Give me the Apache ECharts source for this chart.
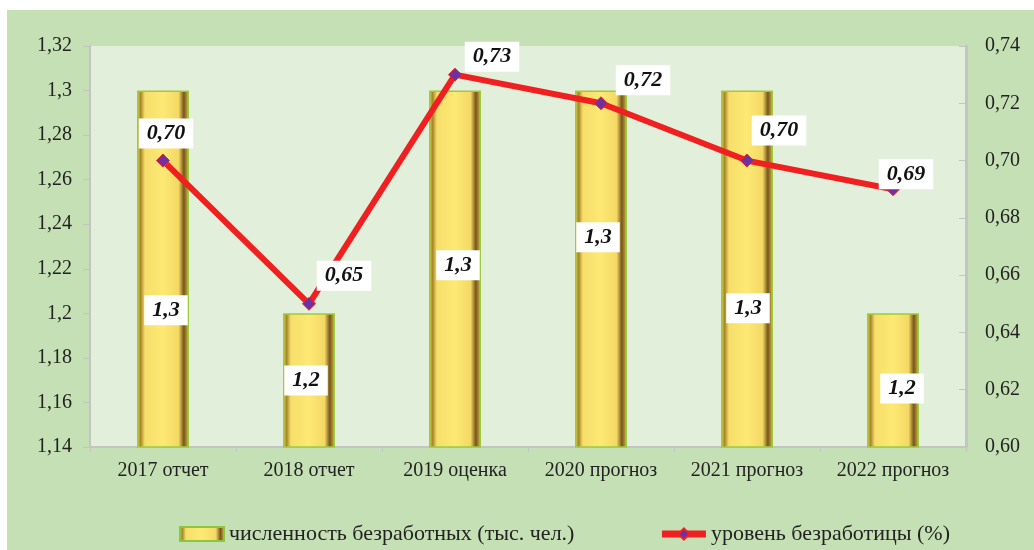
<!DOCTYPE html>
<html><head><meta charset="utf-8">
<script src="https://cdn.jsdelivr.net/npm/echarts@6/dist/echarts.min.js"></script>
<style>html,body{margin:0;padding:0;background:#fff}#c{width:1034px;height:550px}</style>
</head><body><div id="c"></div>
<script>
const categories = ['2017 отчет','2018 отчет','2019 оценка','2020 прогноз','2021 прогноз','2022 прогноз'];
const unemployedCount = [1.3, 1.2, 1.3, 1.3, 1.3, 1.2];
const unemploymentRate = [0.70, 0.65, 0.73, 0.72, 0.70, 0.69];
const leftTicks = {min: 1.14, max: 1.32, interval: 0.02};
const rightTicks = {min: 0.60, max: 0.74, interval: 0.02};

const barLabelOffsets = [[3,41],[-3,0],[3,-4],[-3,-32],[1,39],[9,8]];
const lineLabelOffsets = [[3,-27],[35,-28],[37,-18],[42,-23],[32,-30],[13,-15]];
const serif = '"Liberation Serif","Times New Roman",serif';

const barColor = {type:'linear',x:0,y:0,x2:1,y2:0,colorStops:[
  {offset:0,color:'#ecd056'},{offset:0.07,color:'#a88428'},{offset:0.15,color:'#f6de6a'},
  {offset:0.5,color:'#fde974'},{offset:0.8,color:'#f4d864'},{offset:0.9,color:'#76561c'},{offset:1,color:'#dcb848'}]};

const labelBase = {show:true, position:'inside', backgroundColor:'#fff', color:'#111',
  fontFamily:serif, fontWeight:'bold', fontStyle:'italic', fontSize:22, padding:[5,8,3,8]};

const chart = echarts.init(document.getElementById('c'));
chart.setOption({
  backgroundColor:'#fff',
  animation:false,
  graphic:[{type:'rect', shape:{x:7,y:10,width:1027,height:540}, style:{fill:'#c5e0b4'}, z:-10, silent:true}],
  grid:{left:90, right:68, top:46, bottom:103, show:true, backgroundColor:'#e2efda', borderWidth:0},
  legend:{left:174, top:518, itemGap:84, itemWidth:44, itemHeight:14,
    textStyle:{fontFamily:serif, fontSize:22, color:'#222'},
    data:[{name:'численность безработных (тыс. чел.)', icon:'rect', itemStyle:{color:barColor, borderColor:'#8cc63c', borderWidth:2}},
          {name:'уровень безработицы (%)', lineStyle:{width:7, color:'#f02020'}}]},
  xAxis:{type:'category', data:categories,
    axisLine:{lineStyle:{color:'#c4c4c4', width:2}},
    axisTick:{show:true, length:5, lineStyle:{color:'#c4c4c4'}},
    axisLabel:{interval:0, fontFamily:serif, fontSize:20, color:'#222', margin:14}},
  yAxis:[
    {type:'value', min:leftTicks.min, max:leftTicks.max, interval:leftTicks.interval,
     axisLine:{show:true, lineStyle:{color:'#c4c4c4', width:2}},
     axisTick:{show:true, length:7, lineStyle:{color:'#c4c4c4'}},
     splitLine:{show:false},
     axisLabel:{fontFamily:serif, fontSize:20, color:'#222', margin:18,
       formatter:v=>String(Math.round(v*100)/100).replace('.',',')}},
    {type:'value', min:rightTicks.min, max:rightTicks.max, interval:rightTicks.interval, position:'right',
     axisLine:{show:true, lineStyle:{color:'#c4c4c4', width:3}},
     axisTick:{show:true, inside:true, length:7, lineStyle:{color:'#c4c4c4'}},
     splitLine:{show:false},
     axisLabel:{fontFamily:serif, fontSize:20, color:'#222', margin:19,
       formatter:v=>v.toFixed(2).replace('.',',')}}
  ],
  series:[
    {name:'численность безработных (тыс. чел.)', type:'bar', yAxisIndex:0, barWidth:52,
     itemStyle:{color:barColor, borderColor:'#9ccc3c', borderWidth:1.5},
     data:unemployedCount.map((v,i)=>({value:v, label:Object.assign({}, labelBase, {offset:barLabelOffsets[i],
        formatter:p=>String(p.value).replace('.',',')})}))},
    {name:'уровень безработицы (%)', type:'line', yAxisIndex:1, z:5,
     lineStyle:{color:'#f02020', width:6},
     symbol:'diamond', symbolSize:13,
     itemStyle:{color:'#7030a0', borderColor:'#f02020', borderWidth:1},
     data:unemploymentRate.map((v,i)=>({value:v, label:Object.assign({}, labelBase, {offset:lineLabelOffsets[i],
        formatter:p=>p.value.toFixed(2).replace('.',',')})}))}
  ]
});
</script></body></html>
